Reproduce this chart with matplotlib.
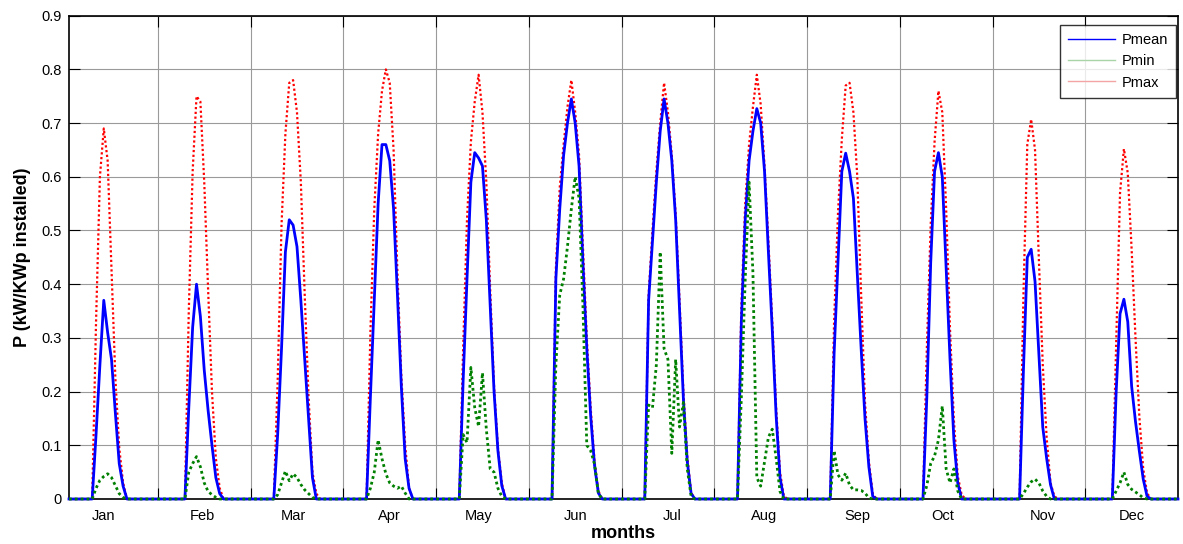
import numpy as np
import matplotlib
matplotlib.use('Agg')
import matplotlib.pyplot as plt
from matplotlib.lines import Line2D

plt.rcParams['font.family'] = ['Liberation Sans', 'DejaVu Sans']

months = ['Jan', 'Feb', 'Mar', 'Apr', 'May', 'Jun',
          'Jul', 'Aug', 'Sep', 'Oct', 'Nov', 'Dec']

# hourly profile (hour 1..24) for each month, kW per kWp installed
pmean = [
    [0, 0, 0, 0, 0, 0, 0, .12, .25, .37, .31, .26, .16, .066, .024, 0, 0, 0, 0, 0, 0, 0, 0, 0],
    [0, 0, 0, 0, 0, 0, 0, .17, .32, .40, .34, .24, .165, .10, .04, .01, 0, 0, 0, 0, 0, 0, 0, 0],
    [0, 0, 0, 0, 0, 0, .12, .28, .46, .52, .51, .47, .37, .26, .15, .04, 0, 0, 0, 0, 0, 0, 0, 0],
    [0, 0, 0, 0, 0, 0, .19, .37, .55, .66, .66, .63, .54, .38, .21, .075, .02, 0, 0, 0, 0, 0, 0, 0],
    [0, 0, 0, 0, 0, 0, .22, .41, .59, .645, .635, .62, .52, .36, .20, .09, .025, 0, 0, 0, 0, 0, 0, 0],
    [0, 0, 0, 0, 0, 0, .41, .54, .64, .70, .745, .70, .62, .44, .28, .155, .063, .011, 0, 0, 0, 0, 0, 0],
    [0, 0, 0, 0, 0, 0, .37, .48, .59, .685, .745, .70, .63, .52, .355, .186, .07, .01, 0, 0, 0, 0, 0, 0],
    [0, 0, 0, 0, 0, 0, .33, .52, .63, .685, .727, .70, .61, .46, .315, .155, .04, 0, 0, 0, 0, 0, 0, 0],
    [0, 0, 0, 0, 0, 0, .27, .44, .61, .644, .61, .56, .42, .28, .15, .06, .005, 0, 0, 0, 0, 0, 0, 0],
    [0, 0, 0, 0, 0, 0, .19, .44, .61, .645, .60, .43, .26, .11, .03, 0, 0, 0, 0, 0, 0, 0, 0, 0],
    [0, 0, 0, 0, 0, 0, 0, .24, .45, .465, .405, .27, .134, .076, .027, 0, 0, 0, 0, 0, 0, 0, 0, 0],
    [0, 0, 0, 0, 0, 0, 0, .20, .345, .372, .33, .21, .144, .089, .037, .005, 0, 0, 0, 0, 0, 0, 0, 0],
]

pmin = [
    [0, 0, 0, 0, 0, 0, 0, .02, .035, .042, .047, .04, .025, .01, .003, 0, 0, 0, 0, 0, 0, 0, 0, 0],
    [0, 0, 0, 0, 0, 0, 0, .05, .066, .079, .06, .03, .014, .008, .003, 0, 0, 0, 0, 0, 0, 0, 0, 0],
    [0, 0, 0, 0, 0, 0, .008, .03, .052, .034, .047, .04, .027, .017, .01, .003, 0, 0, 0, 0, 0, 0, 0, 0],
    [0, 0, 0, 0, 0, 0, .02, .05, .11, .075, .047, .03, .024, .02, .024, .011, 0, 0, 0, 0, 0, 0, 0, 0],
    [0, 0, 0, 0, 0, 0, .12, .105, .245, .17, .135, .235, .13, .056, .05, .02, .005, 0, 0, 0, 0, 0, 0, 0],
    [0, 0, 0, 0, 0, 0, .25, .38, .41, .47, .54, .60, .56, .36, .10, .09, .065, .01, 0, 0, 0, 0, 0, 0],
    [0, 0, 0, 0, 0, 0, .175, .17, .25, .46, .28, .26, .085, .26, .134, .18, .056, .005, 0, 0, 0, 0, 0, 0],
    [0, 0, 0, 0, 0, 0, .19, .41, .59, .42, .04, .024, .07, .115, .13, .076, .014, 0, 0, 0, 0, 0, 0, 0],
    [0, 0, 0, 0, 0, 0, .09, .045, .035, .048, .026, .017, .017, .016, .011, .002, 0, 0, 0, 0, 0, 0, 0, 0],
    [0, 0, 0, 0, 0, 0, .025, .066, .08, .11, .173, .056, .03, .056, .015, 0, 0, 0, 0, 0, 0, 0, 0, 0],
    [0, 0, 0, 0, 0, 0, 0, .01, .022, .032, .037, .03, .015, .005, 0, 0, 0, 0, 0, 0, 0, 0, 0, 0],
    [0, 0, 0, 0, 0, 0, 0, .015, .03, .05, .027, .018, .013, .008, .002, 0, 0, 0, 0, 0, 0, 0, 0, 0],
]

pmax = [
    [0, 0, 0, 0, 0, 0, 0, .33, .60, .69, .63, .425, .225, .095, .03, 0, 0, 0, 0, 0, 0, 0, 0, 0],
    [0, 0, 0, 0, 0, 0, 0, .35, .61, .75, .74, .59, .39, .20, .076, .02, 0, 0, 0, 0, 0, 0, 0, 0],
    [0, 0, 0, 0, 0, 0, .22, .51, .68, .775, .78, .72, .59, .38, .19, .05, .01, 0, 0, 0, 0, 0, 0, 0],
    [0, 0, 0, 0, 0, 0, .31, .54, .68, .76, .80, .775, .65, .42, .23, .10, .02, 0, 0, 0, 0, 0, 0, 0],
    [0, 0, 0, 0, 0, 0, .28, .52, .665, .74, .79, .72, .59, .39, .21, .095, .03, 0, 0, 0, 0, 0, 0, 0],
    [0, 0, 0, 0, 0, 0, .43, .58, .66, .73, .78, .72, .64, .47, .30, .17, .07, .015, 0, 0, 0, 0, 0, 0],
    [0, 0, 0, 0, 0, 0, .38, .50, .61, .70, .775, .72, .64, .53, .37, .20, .08, .012, 0, 0, 0, 0, 0, 0],
    [0, 0, 0, 0, 0, 0, .36, .55, .66, .73, .79, .735, .62, .48, .33, .17, .05, .005, 0, 0, 0, 0, 0, 0],
    [0, 0, 0, 0, 0, 0, .33, .53, .67, .77, .775, .72, .60, .38, .18, .07, .01, 0, 0, 0, 0, 0, 0, 0],
    [0, 0, 0, 0, 0, 0, .28, .51, .665, .76, .72, .54, .315, .147, .043, .008, 0, 0, 0, 0, 0, 0, 0, 0],
    [0, 0, 0, 0, 0, 0, 0, .38, .66, .707, .65, .445, .25, .115, .03, .005, 0, 0, 0, 0, 0, 0, 0, 0],
    [0, 0, 0, 0, 0, 0, 0, .29, .57, .652, .607, .465, .30, .153, .056, .011, 0, 0, 0, 0, 0, 0, 0, 0],
]

y_mean = np.concatenate(pmean)
y_min = np.concatenate(pmin)
y_max = np.concatenate(pmax)
x = np.arange(1, len(y_mean) + 1)

# where the month names sit on the x axis
label_pos = [10, 35.5, 59, 84, 107, 132, 157, 181, 205, 227, 253, 276]

W, H = 1183, 544
fig = plt.figure(figsize=(W / 100, H / 100), dpi=100)
ax = fig.add_axes([69 / W, 1 - 499 / H, (1178 - 69) / W, (499 - 15.7) / H])

ax.plot(x, y_max, color='#ff0000', lw=1.6, ls=(0, (1, 1.15)), zorder=3, clip_on=False)
ax.plot(x, y_mean, color='#0000ff', lw=2.0, zorder=4, clip_on=False)
ax.plot(x, y_min, color='#008000', lw=2.0, ls=(0, (1, 1.1)), zorder=5, clip_on=False)

ax.set_xlim(1, 288)
ax.set_ylim(0, 0.9)

ax.set_xticks(np.arange(24, 288, 24))
ax.set_xticklabels([])
ax.set_xticks(label_pos, minor=True)
ax.set_xticklabels(months, minor=True, fontsize=10.5)
ax.tick_params(axis='x', which='minor', length=0, pad=7)
ax.set_yticks(np.arange(0, 0.91, 0.1))
ax.set_yticklabels(['0'] + ['%.1f' % v for v in np.arange(0.1, 0.91, 0.1)], fontsize=10.5)
ax.tick_params(which='major', direction='in', length=8, width=0.8,
               top=True, right=True, pad=5)

ax.grid(True, which='major', color='#9a9a9a', lw=0.8)
ax.set_axisbelow(True)
for s in ax.spines.values():
    s.set_linewidth(1.2)
    s.set_color('black')

ax.set_xlabel('months', fontsize=13, fontweight='bold', labelpad=2)
ax.set_ylabel('P (kW/KWp installed)', fontsize=13, fontweight='bold', labelpad=8)

handles = [Line2D([], [], color='#0000ff', lw=1.0),
           Line2D([], [], color='#a8d4a8', lw=1.0),
           Line2D([], [], color='#f4a4a4', lw=1.0)]
leg = ax.legend(handles, ['Pmean', 'Pmin', 'Pmax'], loc='upper right',
                bbox_to_anchor=(1176 / W, 1 - 25 / H), bbox_transform=fig.transFigure,
                fontsize=10.5, frameon=True, fancybox=False, borderaxespad=0,
                handlelength=3.2, handletextpad=0.45, labelspacing=0.5,
                borderpad=0.55)
leg.get_frame().set_edgecolor('black')
leg.get_frame().set_linewidth(1.0)
leg.set_zorder(10)

fig.savefig('out.png', dpi=100)
